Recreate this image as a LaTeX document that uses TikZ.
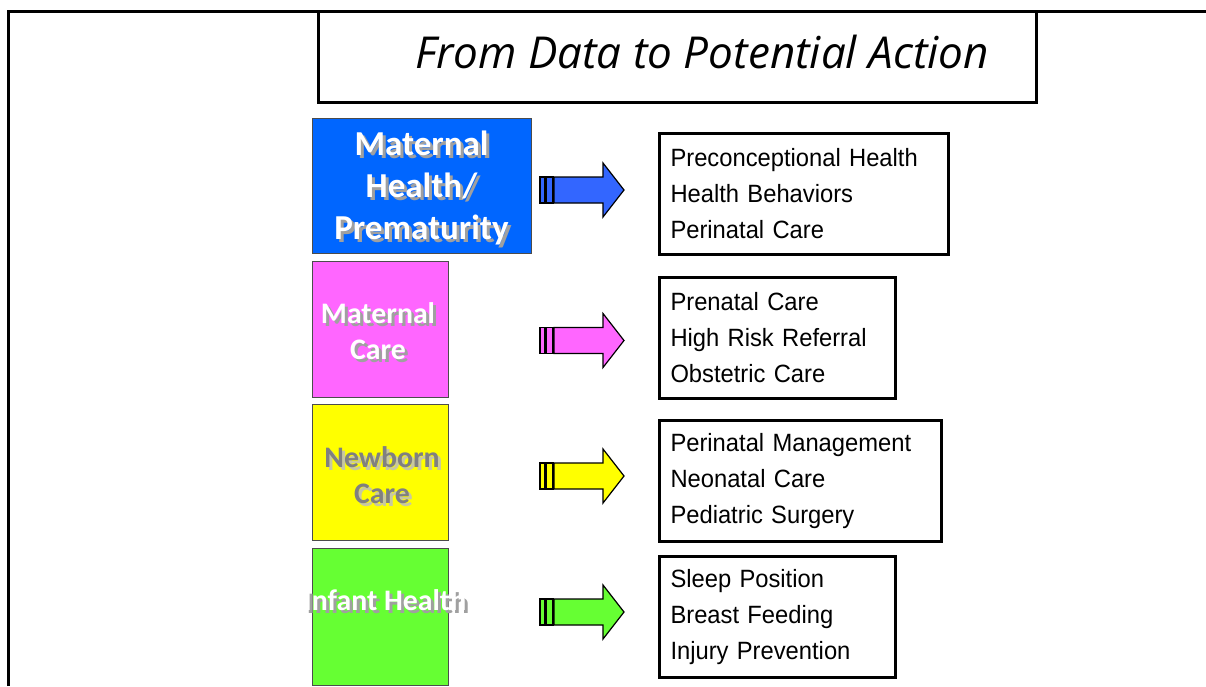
\documentclass[tikz,border=0pt]{standalone}
\usepackage{fontspec}
\setmainfont{Liberation Sans}[FakeStretch=0.95]
\newfontfamily\titlefont{Open Sans}
\newfontfamily\calfont{Carlito}
\definecolor{cblue}{HTML}{0066FF}
\definecolor{ablue}{HTML}{3366FF}
\definecolor{cpink}{HTML}{FF66FF}
\definecolor{cyellow}{HTML}{FFFF00}
\definecolor{cgreen}{HTML}{66FF33}
\definecolor{shadowgray}{HTML}{A0A0A0}
\definecolor{shadowlight}{HTML}{C8C8A0}
\definecolor{newborngray}{HTML}{808080}
\newcommand\shtext[2]{\leavevmode\rlap{\hspace{3pt}\raisebox{-3pt}{\textcolor{#2}{#1}}}#1}
\newcommand\mkblockarrow[2]{%
  \begin{scope}[shift={(#1)}]
    \draw[arrowline,fill=#2] (0,-13) rectangle (5,13);
    \draw[arrowline,fill=#2] (6,-13) rectangle (13,13);
    \draw[arrowline,fill=#2] (14,-13) -- (63,-13) -- (63,-27) -- (84,0) -- (63,27) -- (63,13) -- (14,13) -- cycle;
  \end{scope}}
\begin{document}
\begin{tikzpicture}[x=1pt,y=-1pt,
  frameline/.style={line width=3pt},
  arrowline/.style={draw=black,line width=1.2pt,line join=miter},
  cbox/.style={draw=black!70,line width=1pt,inner sep=0pt,anchor=north west},
  boxtxt/.style={align=center,inner sep=0pt},
  tbox/.style={draw=black,line width=3pt,anchor=north west,align=left,inner xsep=11pt,inner ysep=0pt,
    font=\fontsize{25}{36}\selectfont,minimum height=121pt},
]
\useasboundingbox (0,0) rectangle (1206,686);
% outer frame
\coordinate (fbl) at (8,686);
\coordinate (ftl) at (8,11);
\coordinate (ftr) at (1206,11);
\draw[frameline] (fbl) -- (ftl) -- (ftr);
% title
\node[draw=black,frameline,minimum width=718pt,minimum height=91pt,inner sep=0pt] (title) at (677,56.5) {};
\node[inner sep=0pt,font=\titlefont\itshape\fontsize{44}{50}\selectfont] (titletxt) at (702,52) {From Data to Potential Action};
% colored boxes
\node[cbox,fill=cblue,minimum width=219pt,minimum height=135pt] (b1) at (312,118) {};
\node[cbox,fill=cpink,minimum width=136pt,minimum height=136pt] (b2) at (312,261) {};
\node[cbox,fill=cyellow,minimum width=136pt,minimum height=136pt] (b3) at (312,404) {};
\node[cbox,fill=cgreen,minimum width=136pt,minimum height=137pt] (b4) at (312,548) {};
% labels with shadows
\node[boxtxt,text=white,font=\calfont\bfseries\fontsize{35}{42}\selectfont] (l1) at (421.5,189) {\shtext{Maternal}{shadowgray}\\\shtext{Health/}{shadowgray}\\\shtext{Prematurity}{shadowgray}};
\node[boxtxt,text=white,font=\calfont\bfseries\fontsize{29.8}{36}\selectfont] (l2) at (378,333) {\shtext{Maternal}{shadowgray}\\\shtext{Care}{shadowgray}};
\node[boxtxt,text=newborngray,font=\calfont\bfseries\fontsize{29.8}{36}\selectfont] (l3) at (382,477) {\shtext{Newborn}{shadowlight}\\\shtext{Care}{shadowlight}};
\node[boxtxt,text=white,font=\calfont\bfseries\fontsize{29.8}{36}\selectfont] (l4) at (385,602) {\shtext{Infant Health}{shadowgray}};
% arrows
\coordinate (a1) at (540,190);
\coordinate (a2) at (540,340.5);
\coordinate (a3) at (540,476);
\coordinate (a4) at (540,612);
\mkblockarrow{a1}{ablue}
\mkblockarrow{a2}{cpink}
\mkblockarrow{a3}{cyellow}
\mkblockarrow{a4}{cgreen}
% text boxes
\node[tbox,text width=267pt] (t1) at (658,132) {Preconceptional Health\\Health Behaviors\\Perinatal Care};
\node[tbox,text width=214pt] (t2) at (658,276) {Prenatal Care\\High Risk Referral\\Obstetric Care};
\node[tbox,text width=260pt] (t3) at (658,419) {Perinatal Management\\Neonatal Care\\Pediatric Surgery};
\node[tbox,text width=214pt] (t4) at (658,555) {Sleep Position\\Breast Feeding\\Injury Prevention};
\end{tikzpicture}
\end{document}
